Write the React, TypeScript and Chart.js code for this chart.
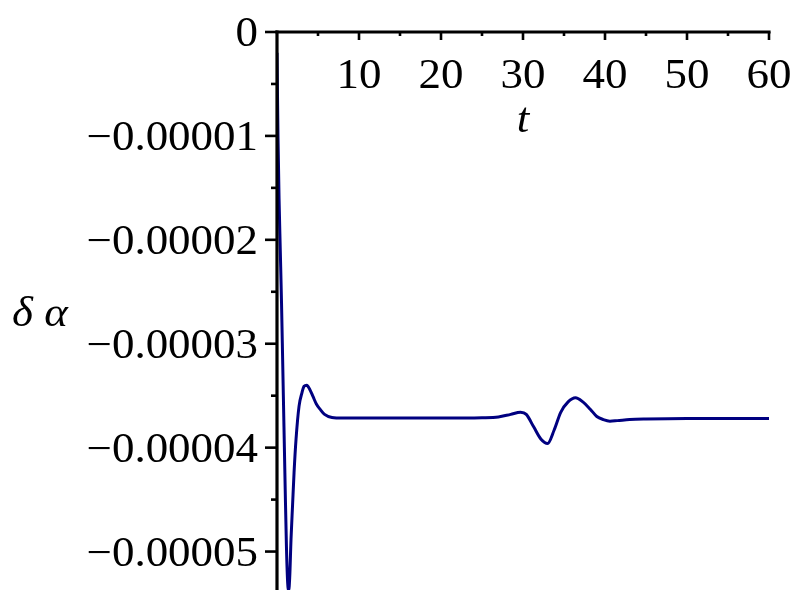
import { useEffect, useRef } from 'react';
import { Chart, registerables } from 'chart.js';
Chart.register(...registerables);

const tValues = [
  0, 0.12, 0.25, 0.4, 0.55, 0.7, 0.85, 1.0, 1.15, 1.3, 1.43, 1.55, 1.71, 1.9, 2.08, 2.32, 2.69, 3.05, 3.3, 3.63, 4.0, 4.4, 4.8, 5.25, 5.8, 6.7, 8, 10, 15, 20, 25, 27, 28.5, 29.7, 30.4, 31.3, 32.2, 33.0, 33.8, 34.6, 35.5, 36.4, 37.3, 38.2, 39.0, 39.8, 40.6, 41.5, 43, 45, 50, 55, 60,
];
const deltaAlpha = [
  -0.2e-5, -1.0e-5, -1.6e-5, -2.1e-5, -2.6e-5, -3.2e-5, -3.8e-5, -4.4e-5, -4.95e-5, -5.3e-5, -5.37e-5, -5.25e-5, -4.88e-5, -4.55e-5, -4.24e-5, -3.92e-5, -3.6e-5, -3.47e-5, -3.41e-5, -3.4e-5, -3.44e-5, -3.51e-5, -3.58e-5, -3.63e-5, -3.68e-5, -3.71e-5, -3.715e-5, -3.715e-5, -3.715e-5, -3.715e-5, -3.712e-5, -3.705e-5, -3.68e-5, -3.66e-5, -3.68e-5, -3.8e-5, -3.92e-5, -3.96e-5, -3.83e-5, -3.66e-5, -3.56e-5, -3.52e-5, -3.56e-5, -3.63e-5, -3.7e-5, -3.73e-5, -3.745e-5, -3.74e-5, -3.73e-5, -3.725e-5, -3.72e-5, -3.72e-5, -3.72e-5,
];

const xMajorTicks = [10, 20, 30, 40, 50, 60];
const xTickLabels = ['10', '20', '30', '40', '50', '60'];
const xMinorTicks = [5, 15, 25, 35, 45, 55];
const yMajorTicks = [0, -0.00001, -0.00002, -0.00003, -0.00004, -0.00005];
const yTickLabels = ['0', '\u22120.00001', '\u22120.00002', '\u22120.00003', '\u22120.00004', '\u22120.00005'];
const yMinorTicks = [-0.000005, -0.000015, -0.000025, -0.000035, -0.000045];
const xTitle = 't';
const yTitle = '\u03b4 \u03b1';

const FONT_SIZE = 42;
const STRETCH = 1.07;

function drawText(ctx: CanvasRenderingContext2D, text: string, x: number, y: number, align: CanvasTextAlign, italic = false) {
  ctx.save();
  ctx.translate(x, y);
  ctx.scale(STRETCH, 1);
  ctx.font = `${italic ? 'italic ' : ''}${FONT_SIZE}px "Liberation Serif", "Times New Roman", serif`;
  ctx.textAlign = align;
  ctx.textBaseline = 'alphabetic';
  ctx.fillStyle = '#000000';
  ctx.fillText(text, 0, 0);
  ctx.restore();
}

const axesPlugin = {
  id: 'mapleAxes',
  afterDatasetsDraw(chart: any) {
    const ctx: CanvasRenderingContext2D = chart.ctx;
    const xs = chart.scales.x;
    const ys = chart.scales.y;
    const x0 = xs.getPixelForValue(0);
    const y0 = ys.getPixelForValue(0);
    const area = chart.chartArea;
    ctx.save();
    ctx.strokeStyle = '#000000';
    ctx.lineWidth = 3.2;
    ctx.lineCap = 'butt';
    ctx.beginPath();
    ctx.moveTo(x0 - 1.6, y0);
    ctx.lineTo(xs.getPixelForValue(60) + 1.6, y0);
    ctx.stroke();
    ctx.beginPath();
    ctx.moveTo(x0, y0 - 1.6);
    ctx.lineTo(x0, area.bottom);
    ctx.stroke();
    ctx.lineWidth = 2.6;
    xMajorTicks.forEach((v) => {
      const px = xs.getPixelForValue(v);
      ctx.beginPath();
      ctx.moveTo(px, y0);
      ctx.lineTo(px, y0 + 8);
      ctx.stroke();
    });
    xMinorTicks.forEach((v) => {
      const px = xs.getPixelForValue(v);
      ctx.beginPath();
      ctx.moveTo(px, y0);
      ctx.lineTo(px, y0 + 4);
      ctx.stroke();
    });
    yMajorTicks.forEach((v) => {
      const py = ys.getPixelForValue(v);
      ctx.beginPath();
      ctx.moveTo(x0, py);
      ctx.lineTo(x0 - 12, py);
      ctx.stroke();
    });
    yMinorTicks.forEach((v) => {
      const py = ys.getPixelForValue(v);
      ctx.beginPath();
      ctx.moveTo(x0, py);
      ctx.lineTo(x0 - 6, py);
      ctx.stroke();
    });
    ctx.restore();

    xMajorTicks.forEach((v, i) => {
      drawText(ctx, xTickLabels[i], xs.getPixelForValue(v), y0 + 56, 'center');
    });
    yMajorTicks.forEach((v, i) => {
      drawText(ctx, yTickLabels[i], x0 - 19, ys.getPixelForValue(v) + 14, 'right');
    });
    drawText(ctx, xTitle, (xs.left + xs.right) / 2, y0 + 100, 'center', true);
    drawText(ctx, yTitle, 12, (area.top + area.bottom) / 2 + 15, 'left', true);
  },
};

export default function App() {
  const ref = useRef<HTMLCanvasElement | null>(null);
  useEffect(() => {
    if (!ref.current) return;
    const chart = new Chart(ref.current, {
      type: 'line',
      data: {
        datasets: [
          {
            data: tValues.map((t, i) => ({ x: t, y: deltaAlpha[i] })),
            borderColor: '#000080',
            borderWidth: 3,
            pointRadius: 0,
            fill: false,
            cubicInterpolationMode: 'monotone',
          },
        ],
      },
      options: {
        responsive: false,
        animation: false,
        layout: { padding: { left: 277, right: 31, top: 32, bottom: 10 } },
        scales: {
          x: { type: 'linear', min: 0, max: 60, display: false },
          y: { type: 'linear', min: -0.0000537, max: 0, display: false },
        },
        plugins: { legend: { display: false }, tooltip: { enabled: false } },
      },
      plugins: [axesPlugin],
    });
    return () => chart.destroy();
  }, []);
  return (
    <div style={{ position: 'absolute', left: 0, top: 0, width: 800, height: 600, background: '#ffffff' }}>
      <canvas ref={ref} width={800} height={600} />
    </div>
  );
}
